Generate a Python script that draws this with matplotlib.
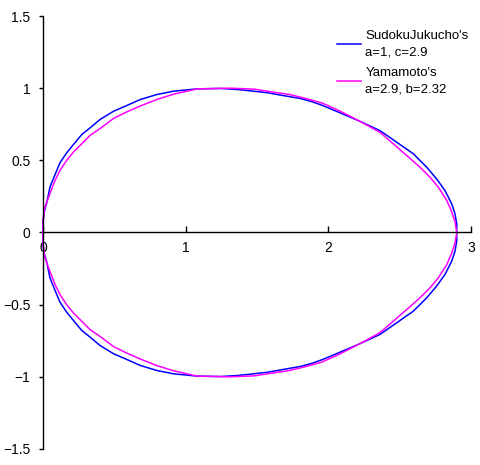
import matplotlib
matplotlib.use("Agg")
import matplotlib.pyplot as plt

# upper halves; the lower halves are mirror images
sudoku_x = [0.0, 0.0, 0.01, 0.026, 0.049, 0.084, 0.119, 0.166, 0.213, 0.272, 0.33, 0.40,
            0.494, 0.588, 0.681, 0.798, 0.915, 1.08, 1.243, 1.36, 1.458, 1.575, 1.694,
            1.80, 1.88, 1.96, 2.08, 2.222, 2.362, 2.48, 2.596, 2.69, 2.76, 2.818, 2.865,
            2.888, 2.90, 2.90]
sudoku_y = [0.0, 0.08, 0.15, 0.205, 0.315, 0.40, 0.483, 0.552, 0.609, 0.679, 0.725, 0.783,
            0.84, 0.88, 0.921, 0.956, 0.979, 0.995, 0.998, 0.991, 0.981, 0.968, 0.947,
            0.929, 0.908, 0.88, 0.83, 0.77, 0.706, 0.625, 0.545, 0.452, 0.37, 0.29,
            0.198, 0.129, 0.06, 0.0]

yama_x = [0.0, 0.0, 0.014, 0.049, 0.084, 0.119, 0.166, 0.213, 0.272, 0.33, 0.40, 0.494,
          0.588, 0.681, 0.798, 0.915, 1.08, 1.313, 1.482, 1.606, 1.728, 1.845, 1.957,
          2.08, 2.222, 2.362, 2.456, 2.55, 2.643, 2.713, 2.771, 2.83, 2.865, 2.888, 2.90]
yama_y = [0.0, 0.08, 0.177, 0.27, 0.36, 0.43, 0.50, 0.557, 0.615, 0.673, 0.72, 0.79,
          0.836, 0.876, 0.922, 0.958, 0.995, 1.0, 0.993, 0.974, 0.956, 0.928, 0.897,
          0.842, 0.77, 0.694, 0.614, 0.533, 0.452, 0.383, 0.314, 0.223, 0.142, 0.073, 0.0]

x_ticks = [0, 1, 2, 3]
y_ticks = [-1.5, -1, -0.5, 0, 0.5, 1, 1.5]
y_labels = ['\u22121.5', '\u22121', '\u22120.5', '0', '0.5', '1', '1.5']

plt.rcParams['font.family'] = ['Liberation Sans', 'DejaVu Sans']
plt.rcParams['font.size'] = 10

fig = plt.figure(figsize=(4.81, 4.65), dpi=100)
ax = fig.add_axes([43/481, 16/465, 428/481, 433/465])

blue = '#0000FF'
pink = '#FF00FF'

# full closed curves: upper half then mirrored lower half
bx = sudoku_x + sudoku_x[::-1]
by = sudoku_y + [-v for v in sudoku_y[::-1]]
mx = yama_x + yama_x[::-1]
my = yama_y + [-v for v in yama_y[::-1]]

ax.plot(bx, by, color=blue, lw=1.1, label="SudokuJukucho's\na=1, c=2.9", clip_on=False)
ax.plot(mx, my, color=pink, lw=1.1, label="Yamamoto's\na=2.9, b=2.32", clip_on=False)

ax.set_xlim(0, 3)
ax.set_ylim(-1.5, 1.5)

ax.spines['left'].set_position(('data', 0))
ax.spines['bottom'].set_position(('data', 0))
ax.spines['top'].set_visible(False)
ax.spines['right'].set_visible(False)
for s in ('left', 'bottom'):
    ax.spines[s].set_linewidth(1.0)

ax.set_xticks(x_ticks)
ax.set_yticks(y_ticks)
ax.set_yticklabels(y_labels)
ax.tick_params(axis='y', direction='out', length=3, width=1, pad=6)
ax.tick_params(axis='x', direction='in', length=4, width=1, pad=6)

leg = fig.legend(loc='upper left', bbox_to_anchor=(337/481, 1 - 30/465), frameon=False,
                 handlelength=1.8, handletextpad=0.35, labelspacing=0.7, borderpad=0,
                 borderaxespad=0, fontsize=9.5)
for t in leg.get_texts():
    t.set_linespacing(1.45)

fig.savefig('out.png', dpi=100)
